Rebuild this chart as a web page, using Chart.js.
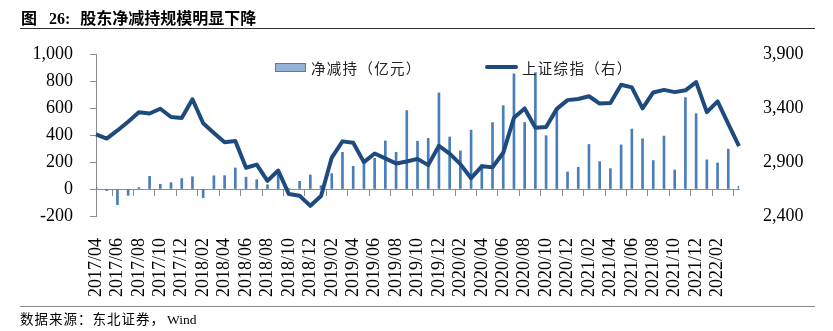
<!DOCTYPE html>
<html>
<head>
<meta charset="utf-8">
<script src="https://cdn.jsdelivr.net/npm/chart.js@4.4.1/dist/chart.umd.min.js"></script>
<style>
    body { margin: 0; background: #fff; }
    #page { position: relative; width: 833px; height: 331px; overflow: hidden; font-family: "Liberation Serif", "Noto Sans CJK SC", serif; }
    #chart { position: absolute; left: 0; top: 0; }
    .title { position: absolute; left: 21px; top: 10px; font-size: 16px; line-height: 18px; font-weight: bold; color: #000; white-space: nowrap; }
    .title .num { margin: 0 10px 0 12px; }
    .rule { position: absolute; left: 20px; width: 795px; }
    .rule.top { top: 28px; border-top: 1.5px solid #333; }
    .rule.bottom { top: 306px; border-top: 1.5px solid #888; }
    .source { position: absolute; left: 20px; top: 312px; font-size: 13.5px; line-height: 16px; letter-spacing: 1px; color: #000; white-space: nowrap; }
    .source .en { letter-spacing: 0; margin-left: 2px; }
    .legend-item { position: absolute; top: 58px; height: 18px; display: flex; align-items: center; font-family: "Noto Sans CJK SC", sans-serif; font-size: 14.5px; letter-spacing: 1.3px; color: #222; white-space: nowrap; }
    .swatch-bar { width: 29px; height: 7px; background: #95b3d7; border: 1px solid #4a7ebb; margin-right: 5px; }
    .swatch-line { width: 33px; height: 4px; border-radius: 2px; background: #1f4a7e; margin-right: 4px; }
</style>
</head>
<body>
<div id="page">
    <canvas id="chart" width="833" height="331"></canvas>
    <div class="title">图<span class="num">26:</span>股东净减持规模明显下降</div>
    <div class="rule top"></div>
    <div id="legend"></div>
    <div class="rule bottom"></div>
    <div class="source">数据来源：东北证券，<span class="en">Wind</span></div>
</div>
<script>
    // months, 2017/04 - 2022/04
    const months = [
        '2017/04', '2017/05', '2017/06', '2017/07', '2017/08', '2017/09', '2017/10', '2017/11', '2017/12',
        '2018/01', '2018/02', '2018/03', '2018/04', '2018/05', '2018/06', '2018/07', '2018/08', '2018/09', '2018/10', '2018/11', '2018/12',
        '2019/01', '2019/02', '2019/03', '2019/04', '2019/05', '2019/06', '2019/07', '2019/08', '2019/09', '2019/10', '2019/11', '2019/12',
        '2020/01', '2020/02', '2020/03', '2020/04', '2020/05', '2020/06', '2020/07', '2020/08', '2020/09', '2020/10', '2020/11', '2020/12',
        '2021/01', '2021/02', '2021/03', '2021/04', '2021/05', '2021/06', '2021/07', '2021/08', '2021/09', '2021/10', '2021/11', '2021/12',
        '2022/01', '2022/02', '2022/03', '2022/04'
    ];

    // 净减持（亿元）, left axis
    const netReduction = [
        15, -12, -116, -47, 10, 94, 35, 47, 77,
        91, -65, 98, 99, 156, 88, 69, 31, 110, 3, 57, 104,
        25, 114, 272, 168, 198, 227, 356, 272, 581, 354, 375, 712,
        385, 282, 436, 181, 492, 617, 853, 493, 862, 395, 584, 126,
        161, 330, 203, 151, 327, 444, 372, 211, 392, 141, 677, 558,
        216, 193, 295, 20
    ];

    // 上证综指, right axis
    const szIndex = [
        3155, 3117, 3192, 3273, 3360, 3349, 3393, 3317, 3307,
        3481, 3259, 3169, 3082, 3095, 2847, 2876, 2725, 2821, 2603, 2588, 2494,
        2585, 2941, 3091, 3078, 2899, 2979, 2933, 2886, 2905, 2929, 2871, 3050,
        2977, 2880, 2750, 2860, 2852, 2985, 3310, 3396, 3218, 3225, 3392, 3473,
        3483, 3509, 3441, 3447, 3615, 3591, 3397, 3544, 3568, 3547, 3564, 3640,
        3362, 3462, 3253, 3047
    ];

    const leftTicks = {min: -200, max: 1000, step: 200};
    const rightTicks = {min: 2400, max: 3900, step: 500};

    const axisGray = '#8c8c8c';
    const tickFont = {family: 'Liberation Serif', size: 18};

    const chart = new Chart(document.getElementById('chart'), {
        data: {
            labels: months,
            datasets: [
                {
                    type: 'line',
                    label: '上证综指（右）',
                    data: szIndex,
                    xAxisID: 'x',
                    yAxisID: 'y1',
                    borderColor: '#1f4a7e',
                    borderWidth: 4,
                    borderJoinStyle: 'round',
                    pointRadius: 0,
                    tension: 0,
                    order: 0
                },
                {
                    type: 'bar',
                    label: '净减持（亿元）',
                    data: netReduction,
                    xAxisID: 'x',
                    yAxisID: 'y',
                    backgroundColor: '#4a7ebb',
                    barThickness: 2,
                    order: 1
                }
            ]
        },
        options: {
            responsive: false,
            animation: false,
            layout: {padding: {top: 54, left: 0, right: 0, bottom: 0}},
            plugins: {
                legend: {display: false},
                tooltip: {enabled: false}
            },
            scales: {
                // axis line through zero, tick marks every two months
                x: {
                    type: 'category',
                    position: {y: 0},
                    offset: false,
                    grid: {
                        drawOnChartArea: false,
                        drawTicks: true,
                        tickLength: 6,
                        color: (c) => c.index % 2 === 0 ? axisGray : 'rgba(0,0,0,0)'
                    },
                    border: {color: axisGray, width: 1},
                    ticks: {display: false, autoSkip: false}
                },
                // month labels along the bottom
                x2: {
                    type: 'category',
                    position: 'bottom',
                    offset: false,
                    grid: {display: false},
                    border: {display: false},
                    ticks: {
                        autoSkip: false,
                        minRotation: 90,
                        maxRotation: 90,
                        padding: 14,
                        color: '#000',
                        font: tickFont,
                        callback: (v, i) => (i % 2 === 0 && i < months.length - 1) ? months[i] : null
                    },
                    afterFit: (s) => { s.height = 115; }
                },
                y: {
                    position: 'left',
                    min: leftTicks.min,
                    max: leftTicks.max,
                    grid: {drawOnChartArea: false, tickLength: 6, color: axisGray},
                    border: {color: axisGray, width: 1},
                    ticks: {
                        stepSize: leftTicks.step,
                        padding: 17,
                        color: '#000',
                        font: tickFont,
                        callback: (v) => v.toLocaleString('en-US')
                    },
                    afterFit: (s) => { s.width = 96; }
                },
                y1: {
                    position: 'right',
                    min: rightTicks.min,
                    max: rightTicks.max,
                    grid: {display: false},
                    border: {display: false},
                    ticks: {
                        stepSize: rightTicks.step,
                        padding: 16,
                        color: '#000',
                        font: tickFont,
                        callback: (v) => v.toLocaleString('en-US')
                    },
                    afterFit: (s) => { s.width = 94; }
                }
            }
        }
    });

    // legend above the plot, built from the datasets
    const legend = document.getElementById('legend');
    const barSet = chart.data.datasets[1];
    const lineSet = chart.data.datasets[0];
    legend.innerHTML =
        '<div class="legend-item" style="left:275px"><span class="swatch-bar"></span>' + barSet.label + '</div>' +
        '<div class="legend-item" style="left:485px"><span class="swatch-line"></span>' + lineSet.label + '</div>';
</script>
</body>
</html>
